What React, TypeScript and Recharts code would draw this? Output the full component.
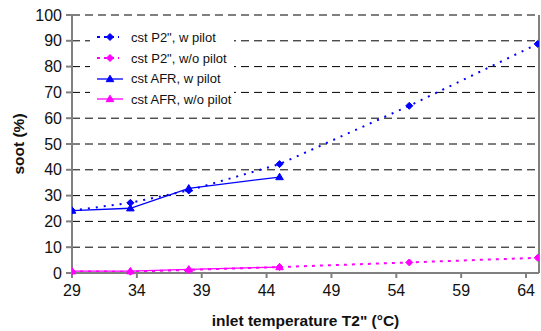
import {
  LineChart,
  Line,
  XAxis,
  YAxis,
  CartesianGrid,
  ReferenceLine,
  Legend,
  Label,
} from 'recharts'

// inlet temperature T2" (°C)
const temps = [29, 33.5, 38, 45, 55, 64.9]
// soot (%)
const p2Pilot = [24.2, 27.2, 32, 42.2, 64.8, 88.8]
const p2NoPilot = [0.6, 0.5, 1.2, 2.3, 4.1, 5.9]
const afrPilot = [24.2, 25.1, 32.8, 37.2]
const afrNoPilot = [0.7, 0.7, 1.4, 2.3]

const xTicks = [29, 34, 39, 44, 49, 54, 59, 64]
const yTicks = [0, 10, 20, 30, 40, 50, 60, 70, 80, 90, 100]

const BLUE = '#0000ff'
const MAGENTA = '#ff00ff'
const AXIS = '#808080'
const FONT = '"Liberation Sans", Arial, sans-serif'

type Shape = 'diamond' | 'triangle'

const series: {
  key: string
  name: string
  color: string
  dash?: string
  width: number
  shape: Shape
}[] = [
  { key: 'p2Pilot', name: 'cst P2", w pilot', color: BLUE, dash: '2 6', width: 2, shape: 'diamond' },
  { key: 'p2NoPilot', name: 'cst P2", w/o pilot', color: MAGENTA, dash: '3 5', width: 2, shape: 'diamond' },
  { key: 'afrPilot', name: 'cst AFR, w pilot', color: BLUE, width: 1.3, shape: 'triangle' },
  { key: 'afrNoPilot', name: 'cst AFR, w/o pilot', color: MAGENTA, width: 1.3, shape: 'triangle' },
]

const data = temps.map((t, i) => ({
  t,
  p2Pilot: p2Pilot[i],
  p2NoPilot: p2NoPilot[i],
  afrPilot: afrPilot[i],
  afrNoPilot: afrNoPilot[i],
}))

function Marker({ cx, cy, shape, color }: { cx?: number; cy?: number; shape: Shape; color: string }) {
  if (cx == null || cy == null || isNaN(cx) || isNaN(cy)) return <g />
  if (shape === 'diamond') {
    const s = 3.5
    return (
      <polygon
        points={`${cx},${cy - s} ${cx + s},${cy} ${cx},${cy + s} ${cx - s},${cy}`}
        fill={color}
        stroke={color}
      />
    )
  }
  const s = 3.8
  return (
    <polygon
      points={`${cx},${cy - s} ${cx + s},${cy + s * 0.7} ${cx - s},${cy + s * 0.7}`}
      fill={color}
      stroke={color}
    />
  )
}

function LegendBox() {
  return (
    <div style={{ background: '#fff', padding: '0 0 6px 6px', width: 138 }}>
      {series.map((s) => (
        <div key={s.key} style={{ display: 'flex', alignItems: 'center', height: 20.7 }}>
          <svg width={34} height={12}>
            <line
              x1={1}
              x2={s.dash ? 23 : 27}
              y1={6}
              y2={6}
              stroke={s.color}
              strokeWidth={s.dash ? 2 : 1.3}
              strokeDasharray={s.dash ? '3 4' : undefined}
            />
            <Marker cx={14} cy={6} shape={s.shape} color={s.color} />
          </svg>
          <span style={{ fontFamily: FONT, fontSize: 13, color: '#111', marginLeft: 1, whiteSpace: 'nowrap' }}>
            {s.name}
          </span>
        </div>
      ))}
    </div>
  )
}

export default function App() {
  return (
    <div>
      <style>{'body{margin:0}'}</style>
      <LineChart
        width={541}
        height={331}
        data={data}
        margin={{ top: 15, right: 2, bottom: 0, left: 0 }}
      >
        <CartesianGrid vertical={false} stroke="#000" strokeDasharray="8 5" />
        <XAxis
          dataKey="t"
          type="number"
          domain={[29, 65]}
          ticks={xTicks}
          allowDataOverflow
          height={58}
          stroke={AXIS}
          strokeWidth={2}
          tickSize={5}
          tickMargin={7}
          tick={{ fill: '#111', fontSize: 16, fontFamily: FONT }}
        >
          <Label
            content={({ viewBox }: any) => (
              <text
                x={viewBox.x + viewBox.width / 2}
                y={326}
                textAnchor="middle"
                fontFamily={FONT}
                fontWeight="bold"
                fontSize={15.5}
                fill="#111"
              >
                inlet temperature T2" (°C)
              </text>
            )}
          />
        </XAxis>
        <YAxis
          type="number"
          domain={[0, 100]}
          ticks={yTicks}
          width={72}
          stroke={AXIS}
          strokeWidth={2}
          tickSize={6}
          tickMargin={4}
          tick={{ fill: '#111', fontSize: 16, fontFamily: FONT }}
        >
          <Label
            content={({ viewBox }: any) => {
              const cy = viewBox.y + viewBox.height / 2
              return (
                <text
                  x={18}
                  y={cy}
                  transform={`rotate(-90 18 ${cy})`}
                  textAnchor="middle"
                  dominantBaseline="central"
                  fontFamily={FONT}
                  fontWeight="bold"
                  fontSize={15.5}
                  fill="#111"
                >
                  soot (%)
                </text>
              )
            }}
          />
        </YAxis>
        <ReferenceLine x={65} stroke={AXIS} strokeWidth={2} ifOverflow="extendDomain" />
        <Legend
          layout="vertical"
          align="center"
          verticalAlign="middle"
          content={() => <LegendBox />}
          wrapperStyle={{ left: 90, top: 27, width: 142 }}
        />
        {series.map((s) => (
          <Line
            key={s.key}
            dataKey={s.key}
            name={s.name}
            type="linear"
            stroke={s.color}
            strokeWidth={s.width}
            strokeDasharray={s.dash}
            isAnimationActive={false}
            dot={(p: any) => (
              <Marker key={`${s.key}-${p.index}`} cx={p.cx} cy={p.cy} shape={s.shape} color={s.color} />
            )}
            activeDot={false}
          />
        ))}
      </LineChart>
    </div>
  )
}
